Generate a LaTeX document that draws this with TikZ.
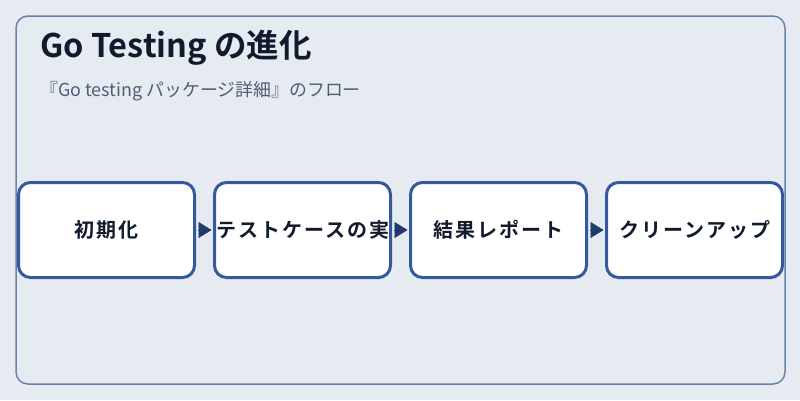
\documentclass[tikz,border=0pt]{standalone}
\usepackage{fontspec}
\setmainfont{Noto Sans CJK JP}[BoldFont={Noto Sans CJK JP Bold}]
\newfontfamily\stepfont{Noto Sans CJK JP Bold}[LetterSpace=10]
\usetikzlibrary{positioning,arrows.meta}
\definecolor{bgcol}{HTML}{E6EBF1}
\definecolor{framecol}{HTML}{6A82AE}
\definecolor{boxcol}{HTML}{3558A0}
\definecolor{arrcol}{HTML}{1E3A6E}
\definecolor{titlecol}{HTML}{111B2E}
\definecolor{subcol}{HTML}{4F5E75}
\begin{document}
\begin{tikzpicture}[x=1pt,y=-1pt,
    stepbox/.style={draw=boxcol,line width=3pt,fill=white,rounded corners=12pt,minimum width=176pt,minimum height=95pt,inner sep=0pt,font=\stepfont\fontsize{20}{20}\selectfont,text=titlecol},
    flow/.style={arrcol,line width=0.5pt,shorten <=2pt,shorten >=1.5pt,-{Triangle[length=13pt,width=16pt]}}]
				\fill[bgcol] (0,0) rectangle (800,400);
				\draw[framecol,line width=1.5pt,rounded corners=12pt] (16,16) rectangle (785,384);
				\node[anchor=base west,text=titlecol,font=\bfseries\fontsize{32.5}{32.5}\selectfont,inner sep=0pt] (title) at (40,57.5) {Go Testing の進化};
				\node[anchor=base west,text=subcol,font=\fontsize{17.9}{17.9}\selectfont,inner sep=0pt] (sub) at (40,96) {『Go testing パッケージ詳細』のフロー};
				\node[stepbox] (init) at (106.5,230) {初期化};
				\node[stepbox,right=17pt of init] (run) {テストケースの実};
				\node[stepbox,right=17pt of run] (report) {結果レポート};
				\node[stepbox,right=17pt of report] (clean) {クリーンアップ};
				\draw[flow] (init) -- (run);
				\draw[flow] (run) -- (report);
				\draw[flow] (report) -- (clean);
		\end{tikzpicture}
\end{document}
